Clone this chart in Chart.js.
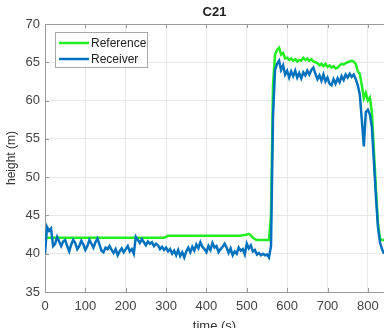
<!DOCTYPE html>
<html>
<head>
<meta charset="utf-8">
<title>C21</title>
<script src="https://cdn.jsdelivr.net/npm/chart.js@4.4.1/dist/chart.umd.min.js"></script>
<style>
html, body { margin: 0; padding: 0; background: #fff; }
</style>
</head>
<body>
<canvas id="chart" width="384" height="328"></canvas>
<script>
// chart data
const chartTitle = "C21";
const seriesNames = ["Reference", "Receiver"];
const xTitle = "time (s)";
const yTitle = "height (m)";
const xTickValues = [0, 100, 200, 300, 400, 500, 600, 700, 800];

const times = [
    0, 5, 10, 15, 20, 25, 30, 35, 40, 45,
    50, 55, 60, 65, 70, 75, 80, 85, 90, 95,
    100, 105, 110, 115, 120, 125, 130, 135, 140, 145,
    150, 155, 160, 165, 170, 175, 180, 185, 190, 195,
    200, 205, 210, 215, 220, 225, 230, 235, 240, 245,
    250, 255, 260, 265, 270, 275, 280, 285, 290, 295,
    300, 305, 310, 315, 320, 325, 330, 335, 340, 345,
    350, 355, 360, 365, 370, 375, 380, 385, 390, 395,
    400, 405, 410, 415, 420, 425, 430, 435, 440, 445,
    450, 455, 460, 465, 470, 475, 480, 485, 490, 495,
    500, 505, 510, 515, 520, 525, 530, 535, 540, 545,
    550, 555, 560, 565, 570, 575, 580, 585, 590, 595,
    600, 605, 610, 615, 620, 625, 630, 635, 640, 645,
    650, 655, 660, 665, 670, 675, 680, 685, 690, 695,
    700, 705, 710, 715, 720, 725, 730, 735, 740, 745,
    750, 755, 760, 765, 770, 775, 780, 785, 790, 795,
    800, 805, 810, 815, 820, 825, 830, 835, 840, 845,
    850
];

const referenceHeights = [
    42.1, 42.1, 42.1, 42.1, 42.1, 42.1, 42.1, 42.1, 42.1, 42.1,
    42.1, 42.1, 42.1, 42.1, 42.1, 42.1, 42.1, 42.1, 42.1, 42.1,
    42.1, 42.1, 42.1, 42.1, 42.1, 42.1, 42.1, 42.1, 42.1, 42.1,
    42.1, 42.1, 42.1, 42.1, 42.1, 42.1, 42.1, 42.1, 42.1, 42.1,
    42.1, 42.1, 42.1, 42.1, 42.1, 42.1, 42.1, 42.1, 42.1, 42.1,
    42.1, 42.1, 42.1, 42.1, 42.1, 42.1, 42.1, 42.1, 42.1, 42.1,
    42.2, 42.35, 42.35, 42.35, 42.35, 42.35, 42.35, 42.35, 42.35, 42.35,
    42.35, 42.35, 42.35, 42.35, 42.35, 42.35, 42.35, 42.35, 42.35, 42.35,
    42.35, 42.35, 42.35, 42.35, 42.35, 42.35, 42.35, 42.35, 42.35, 42.35,
    42.35, 42.35, 42.35, 42.35, 42.35, 42.35, 42.35, 42.35, 42.4, 42.45,
    42.5, 42.6, 42.4, 42.1, 41.9, 41.8, 41.8, 41.8, 41.8, 41.8,
    41.8, 41.8, 45.0, 62.0, 66.0, 66.6, 66.9, 66.0, 66.2, 65.5,
    65.6, 65.3, 65.5, 65.2, 65.4, 65.1, 65.3, 65.2, 65.6, 65.3,
    65.5, 65.2, 65.4, 65.1, 65.0, 64.9, 64.6, 64.8, 64.5, 64.8,
    64.4, 64.6, 64.3, 64.5, 64.2, 64.3, 64.6, 64.8, 64.7, 64.9,
    65.0, 65.1, 65.2, 65.1, 64.8, 63.8, 63.5, 62.0, 60.3, 61.0,
    60.0, 60.4, 58.5, 53.5, 48.5, 44.0, 42.0, 41.8, 41.8, 41.8,
    41.8
];

const receiverHeights = [
    40.0, 43.5, 43.0, 43.3, 41.0, 41.3, 42.2, 41.6, 41.0, 41.6,
    41.8, 41.0, 40.3, 41.2, 41.8, 41.4, 40.6, 41.0, 41.7, 41.2,
    40.5, 41.0, 41.8, 41.3, 40.8, 41.5, 42.0, 41.2, 40.4, 40.2,
    40.8, 40.6, 41.0, 40.5, 40.1, 40.6, 39.8, 40.3, 40.7, 40.2,
    40.6, 41.0, 40.3, 40.6, 40.0, 42.2, 41.8, 41.4, 41.9, 41.5,
    41.1, 41.6, 41.3, 41.5, 41.0, 41.3, 41.1, 40.6, 40.9, 40.5,
    40.8, 40.3, 40.6, 40.0, 40.4, 39.8, 40.5, 39.7, 40.2, 39.5,
    40.3, 40.8, 40.2, 40.9, 40.4, 41.2, 40.7, 41.5, 40.9, 40.6,
    40.2, 41.0, 40.5, 41.4, 40.8, 41.0, 40.2, 40.6, 40.9, 41.3,
    40.8, 40.1, 40.7, 39.8, 40.3, 40.0, 40.8, 40.4, 40.6, 39.9,
    41.3, 40.7, 41.1, 40.3, 40.5, 39.9, 40.1, 39.8, 40.0, 39.8,
    39.9, 39.5, 41.0, 58.0, 64.0, 64.8, 65.2, 64.0, 64.6, 63.4,
    63.9, 63.0, 63.8, 63.2, 63.9, 63.0, 63.6, 62.9, 63.7, 63.3,
    63.9, 63.4, 64.0, 64.3, 63.5, 62.8, 63.3, 62.6, 63.4, 62.5,
    63.0, 62.2, 62.0, 62.8, 62.2, 62.9, 62.4, 63.2, 62.7, 63.4,
    63.0, 63.5, 63.1, 63.4, 62.8, 62.0, 60.8, 57.5, 54.0, 58.5,
    58.8, 58.2, 56.5, 52.0, 47.5, 43.5, 41.5, 40.6, 40.0, 39.6,
    39.3
];

const seriesColors = ["#22ee22", "#0072bd"];
const fontFamily = "'Liberation Sans', Arial, Helvetica, sans-serif";

function toPoints(values) {
    return times.map((t, i) => ({ x: t, y: values[i] }));
}

// MATLAB-ish box: top edge, inward ticks, title and framed legend
const matlabFrame = {
    id: "matlabFrame",
    afterDraw(chart) {
        const ctx = chart.ctx;
        const a = chart.chartArea;
        const sx = chart.scales.x;
        const sy = chart.scales.y;
        ctx.save();
        ctx.strokeStyle = "#9a9a9a";
        ctx.lineWidth = 1;
        ctx.beginPath();
        ctx.moveTo(a.left, a.top + 0.5);
        ctx.lineTo(a.right, a.top + 0.5);
        sx.ticks.forEach(t => {
            let px = Math.round(sx.getPixelForValue(t.value)) + 0.5;
            ctx.moveTo(px, a.top);
            ctx.lineTo(px, a.top + 4);
            ctx.moveTo(px, a.bottom);
            ctx.lineTo(px, a.bottom - 4);
        });
        sy.ticks.forEach(t => {
            let py = Math.round(sy.getPixelForValue(t.value)) + 0.5;
            ctx.moveTo(a.left, py);
            ctx.lineTo(a.left + 4, py);
        });
        ctx.stroke();

        // title
        ctx.fillStyle = "#222";
        ctx.font = "bold 13px " + fontFamily;
        ctx.textAlign = "center";
        ctx.textBaseline = "middle";
        ctx.fillText(chartTitle, (a.left + a.right) / 2, 12);

        // legend
        ctx.fillStyle = "#fff";
        ctx.fillRect(55.5, 32.5, 92, 35);
        ctx.strokeStyle = "#a8a8a8";
        ctx.strokeRect(55.5, 32.5, 92, 35);
        ctx.font = "12px " + fontFamily;
        ctx.textAlign = "left";
        chart.data.datasets.forEach((ds, i) => {
            let ly = 43 + i * 16;
            ctx.strokeStyle = ds.borderColor;
            ctx.lineWidth = 2.5;
            ctx.beginPath();
            ctx.moveTo(59, ly);
            ctx.lineTo(89, ly);
            ctx.stroke();
            ctx.fillStyle = "#222";
            ctx.fillText(ds.label, 91, ly + 0.5);
        });
        ctx.restore();
    }
};

const ctx = document.getElementById("chart").getContext("2d");
const chart = new Chart(ctx, {
    type: "line",
    data: {
        datasets: [{
            label: seriesNames[0],
            data: toPoints(referenceHeights),
            borderColor: seriesColors[0],
            borderWidth: 2.5,
            pointRadius: 0,
            tension: 0,
            fill: false,
            order: 1
        }, {
            label: seriesNames[1],
            data: toPoints(receiverHeights),
            borderColor: seriesColors[1],
            borderWidth: 2.5,
            pointRadius: 0,
            tension: 0,
            fill: false,
            order: 0
        }]
    },
    options: {
        responsive: false,
        devicePixelRatio: 1,
        animation: false,
        layout: { padding: { top: 24, left: 0, right: 0, bottom: 0 } },
        plugins: {
            legend: { display: false },
            tooltip: { enabled: false },
            title: { display: false }
        },
        scales: {
            x: {
                type: "linear",
                min: 0,
                max: 840,
                afterBuildTicks: scale => {
                    scale.ticks = xTickValues.map(v => ({ value: v }));
                },
                afterFit: scale => {
                    scale.height = 36;
                    scale.paddingLeft = 0;
                    scale.paddingRight = 0;
                },
                ticks: {
                    autoSkip: false,
                    maxRotation: 0,
                    padding: 7,
                    color: "#444",
                    font: { family: fontFamily, size: 13 }
                },
                grid: { color: "#e8e8e8", drawTicks: false },
                border: { color: "#9a9a9a" },
                title: {
                    display: true,
                    text: xTitle,
                    color: "#333",
                    font: { family: fontFamily, size: 13 },
                    padding: { top: 0, bottom: -6 }
                }
            },
            y: {
                min: 35,
                max: 70,
                afterFit: scale => {
                    scale.width = 45;
                },
                ticks: {
                    stepSize: 5,
                    padding: 5,
                    color: "#444",
                    font: { family: fontFamily, size: 13 }
                },
                grid: { color: "#e8e8e8", drawTicks: false },
                border: { color: "#9a9a9a" },
                title: {
                    display: true,
                    text: yTitle,
                    color: "#333",
                    font: { family: fontFamily, size: 12 },
                    padding: { top: 4, bottom: 0 }
                }
            }
        }
    },
    plugins: [matlabFrame]
});
</script>
</body>
</html>
